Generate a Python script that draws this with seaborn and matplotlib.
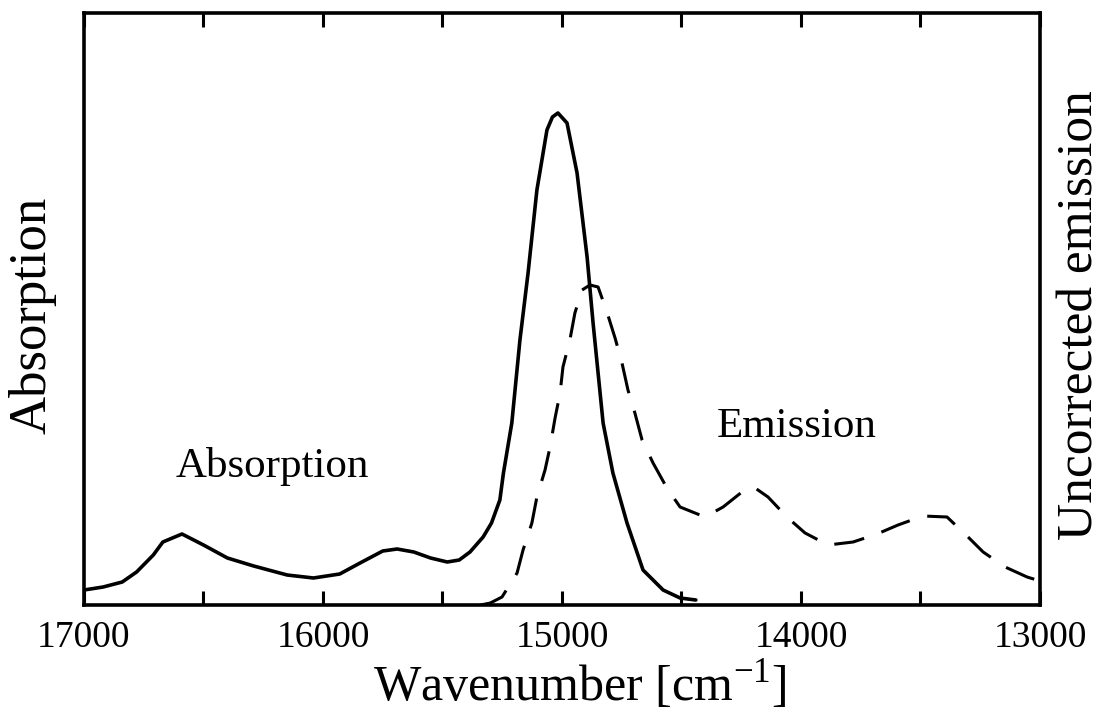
import numpy as np
import pandas as pd
import matplotlib
matplotlib.use("Agg")
import matplotlib.pyplot as plt
import seaborn as sns
from matplotlib.ticker import MultipleLocator

# ---- data (wavenumber in cm^-1, intensity in arbitrary units) ----
abs_x = [17000, 16920, 16840, 16780, 16710, 16670, 16590, 16500, 16400, 16290,
         16150, 16040, 15930, 15845, 15750, 15690, 15620, 15550, 15480, 15430,
         15385, 15330, 15295, 15260, 15245, 15210, 15176, 15142, 15105, 15063,
         15040, 15017, 14979, 14937, 14895, 14870, 14828, 14787, 14728, 14661,
         14577, 14506, 14440]
abs_y = [15, 18, 23, 33, 50, 63, 71, 60, 47, 39,
         30, 27, 31, 42, 54, 56, 53, 47, 43, 45,
         53, 68, 82, 105, 132, 182, 265, 332, 415, 475,
         488, 492, 482, 432, 348, 282, 182, 132, 82, 35,
         15, 7, 5]

em_x = [15340, 15300, 15251, 15188, 15163, 15126, 15105, 15071, 15050, 15029,
        15008, 14996, 14967, 14946, 14916, 14883, 14849, 14812, 14778, 14749,
        14724, 14695, 14665, 14619, 14561, 14506, 14402, 14326, 14226, 14192,
        14138, 14059, 13983, 13887, 13782, 13682, 13594, 13490, 13389, 13301,
        13238, 13146, 13054, 13000]
em_y = [0, 2, 8, 32, 55, 82, 108, 135, 158, 187,
        212, 238, 265, 292, 315, 320, 318, 293, 267, 242,
        215, 192, 165, 142, 117, 98, 88, 98, 117, 117,
        108, 88, 72, 60, 63, 71, 80, 89, 88, 68,
        53, 38, 28, 24]

x_ticks = [17000, 16000, 15000, 14000, 13000]
x_label = "Wavenumber [cm$^{\\mathregular{-1}}$]"
left_label = "Absorption"
right_label = "Uncorrected emission"
ann_abs = "Absorption"
ann_em = "Emission"

df_abs = pd.DataFrame({"wn": abs_x, "val": abs_y})
df_em = pd.DataFrame({"wn": em_x, "val": em_y})

sns.set_style("ticks")
plt.rcParams["font.family"] = ["Liberation Serif", "DejaVu Serif"]
plt.rcParams["mathtext.fontset"] = "custom"
plt.rcParams["mathtext.rm"] = "Liberation Serif"
plt.rcParams["text.color"] = "black"
plt.rcParams["axes.labelcolor"] = "black"
plt.rcParams["xtick.color"] = "black"
plt.rcParams["xtick.labelcolor"] = "black"

fig = plt.figure(figsize=(11.06, 7.11), dpi=100)
ax = fig.add_axes([84 / 1106, 1 - 605 / 711, (1040 - 84) / 1106, (605 - 13) / 711])

sns.lineplot(data=df_abs, x="wn", y="val", ax=ax, color="black", linewidth=2.6,
             sort=False, estimator=None)
sns.lineplot(data=df_em, x="wn", y="val", ax=ax, color="black", linewidth=2.2,
             sort=False, estimator=None)
ax.lines[1].set_dashes((10, 6))

ax.set_xlim(17000, 13000)
ax.set_ylim(0, 592)
ax.set_xticks(x_ticks)
ax.xaxis.set_minor_locator(MultipleLocator(500))
ax.set_yticks([])

for s in ax.spines.values():
    s.set_linewidth(2.6)
    s.set_color("black")

ax.tick_params(axis="x", which="both", direction="in", length=10, width=2.2,
               top=True, bottom=True, labelsize=27, pad=11, colors="black")

ax.set_xlabel(x_label, fontsize=36, color="black")
ax.xaxis.set_label_coords((580 - 84) / 956, -0.088)
ax.set_ylabel("")

fig.text(33 / 1106, 1 - 315 / 711, left_label, rotation=90, ha="center",
         va="center", fontsize=38, color="black")
fig.text(1080 / 1106, 1 - 315 / 711, right_label, rotation=90, ha="center",
         va="center", fontsize=37, color="black")

ax.text(16213, 605 - 477, ann_abs, fontsize=31, ha="center", va="baseline",
        color="black")
ax.text(14017, 605 - 437, ann_em, fontsize=31, ha="center", va="baseline",
        color="black")

fig.savefig("out.png", dpi=100, facecolor="white")
